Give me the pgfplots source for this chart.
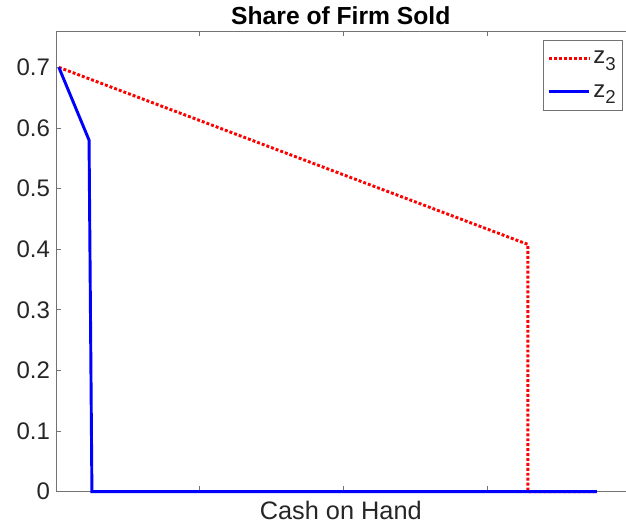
\documentclass[border=0pt]{standalone}
\usepackage{pgfplots}
\pgfplotsset{compat=1.18}
\usepackage{fontspec}
\setmainfont{Liberation Sans}
\definecolor{axgray}{gray}{0.45}
\definecolor{txtgray}{gray}{0.15}
\newcommand{\zsub}[1]{z\raisebox{-5pt}{\fontsize{14}{16}\selectfont #1}}
\begin{document}
\begin{tikzpicture}[x=1pt,y=1pt]
\begin{axis}[
  scale only axis,
  width=427.5pt, height=345.75pt,
  xmin=0, xmax=3.96, ymin=0, ymax=0.76,
  axis x line*=box, axis y line*=left,
  axis line style={axgray, line width=0.6pt},
  xtick={1,2,3}, xticklabels={},
  ytick={0,0.1,0.2,0.3,0.4,0.5,0.6,0.7},
  yticklabel style={/pgf/number format/fixed, /pgf/number format/precision=1, font=\fontsize{18}{21}\selectfont, text=txtgray, xshift=-1pt},
  /pgf/number format/assume math mode=true,
  tick style={axgray, line width=0.6pt},
  major tick length=4pt,
  tick align=inside,
  xlabel={Cash on Hand},
  xlabel style={font=\fontsize{19}{22}\selectfont, text=txtgray, yshift=3pt},
  title={\bfseries Share of Firm Sold},
  title style={font=\fontsize{18.5}{21}\selectfont, yshift=-5pt},
  legend style={at={(0.995,0.98)}, anchor=north east, draw=axgray, line width=0.6pt,
    font=\fontsize{18}{21}\selectfont, text=txtgray, row sep=10pt, inner xsep=3pt, inner ysep=6pt},
  legend image code/.code={\draw[#1] (0pt,0pt) -- (30pt,0pt);},
  legend cell align=left,
  clip=false,
]
\addplot[red, line width=2.2pt, dash pattern=on 2.2pt off 1.5pt] coordinates {
  (0.02,0.70) (3.28,0.408) (3.28,0) (3.76,0)
};
\addlegendentry{\zsub{3}}
\addplot[blue, line width=2.2pt] coordinates {
  (0.02,0.70) (0.23,0.58) (0.25,0) (3.76,0)
};
\addlegendentry{\zsub{2}}
\end{axis}
\path (current axis.south west) ++(-42pt,-29.25pt) coordinate (bbsw);
\path (current axis.north east) ++(0pt,23.25pt) coordinate (bbne);
\useasboundingbox (bbsw) rectangle (bbne);
\end{tikzpicture}
\end{document}
